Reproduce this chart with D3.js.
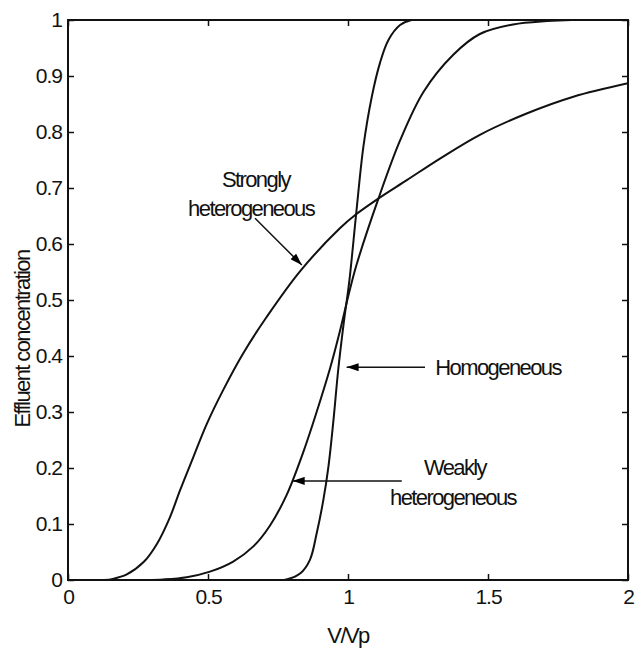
<html lang="en"><head>
<meta charset="utf-8">
<title>Effluent concentration curves</title>
<script src="https://cdn.jsdelivr.net/npm/d3@7"></script>
<style>
  body { margin: 0; background: #fff; }
  svg text { font-family: "Liberation Sans", Arial, sans-serif; fill: #111; }
</style>
</head>
<body>
<script>
// data (V/Vp, effluent concentration)
var homX = [0, 0.74, 0.78, 0.83, 0.864, 0.888, 0.912, 0.93, 0.948, 0.965, 0.985, 1.005, 1.029, 1.055, 1.085, 1.114, 1.144, 1.186, 1.227, 1.3, 2];
var homY = [0, 0, 0.001, 0.012, 0.036, 0.083, 0.143, 0.202, 0.285, 0.375, 0.46, 0.535, 0.653, 0.774, 0.863, 0.923, 0.964, 0.991, 1.0, 1.0, 1.0];

var weakX = [0, 0.28, 0.34, 0.424, 0.507, 0.59, 0.662, 0.721, 0.781, 0.84, 0.888, 0.936, 0.969, 1.005, 1.03, 1.108, 1.186, 1.27, 1.376, 1.471, 1.59, 1.71, 1.8, 2];
var weakY = [0, 0, 0.001, 0.005, 0.015, 0.033, 0.06, 0.097, 0.152, 0.228, 0.3, 0.378, 0.44, 0.515, 0.562, 0.68, 0.785, 0.872, 0.938, 0.975, 0.992, 0.998, 1, 1];

var strongX = [0, 0.13, 0.16, 0.21, 0.27, 0.317, 0.364, 0.4, 0.448, 0.495, 0.555, 0.626, 0.71, 0.83, 0.971, 1.029, 1.108, 1.21, 1.33, 1.471, 1.638, 1.805, 2.0];
var strongY = [0, 0, 0.002, 0.01, 0.032, 0.064, 0.112, 0.16, 0.22, 0.278, 0.34, 0.405, 0.47, 0.552, 0.628, 0.653, 0.681, 0.714, 0.753, 0.795, 0.833, 0.863, 0.887];

var xTicks = [0, 0.5, 1, 1.5, 2];
var yTicks = [0, 0.1, 0.2, 0.3, 0.4, 0.5, 0.6, 0.7, 0.8, 0.9, 1];

// annotation text and arrows, in data units
var labels = [
  { t: "Strongly", x: 0.671, y: 0.702 },
  { t: "heterogeneous", x: 0.654, y: 0.65 },
  { t: "Homogeneous", x: 1.536, y: 0.366 },
  { t: "Weakly", x: 1.382, y: 0.1875 },
  { t: "heterogeneous", x: 1.375, y: 0.134 }
];
var arrows = [
  { x1: 0.668, y1: 0.646, x2: 0.835, y2: 0.5625 },
  { x1: 1.275, y1: 0.38, x2: 0.995, y2: 0.38 },
  { x1: 1.192, y1: 0.177, x2: 0.8025, y2: 0.177 }
];

var w = 637, h = 654;
var m = { left: 68, top: 20, right: 9, bottom: 74 };

var svg = d3.select("body").append("svg")
  .attr("width", w)
  .attr("height", h);

var x = d3.scaleLinear().domain([0, 2]).range([m.left, w - m.right]);
var y = d3.scaleLinear().domain([0, 1]).range([h - m.bottom, m.top]);

var defs = svg.append("defs");
defs.append("marker")
  .attr("id", "head")
  .attr("viewBox", "0 0 12 8")
  .attr("refX", 12).attr("refY", 4)
  .attr("markerWidth", 12).attr("markerHeight", 8)
  .attr("markerUnits", "userSpaceOnUse")
  .attr("orient", "auto")
  .append("path")
  .attr("d", "M0,0L12,4L0,8Z")
  .attr("fill", "#000");

defs.append("clipPath").attr("id", "plot")
  .append("rect")
  .attr("x", x(0)).attr("y", y(1))
  .attr("width", x(2) - x(0)).attr("height", y(0) - y(1));

// axes, ticks pointing inwards on all four sides
function styleAxis(g) {
  g.select(".domain").remove();
  g.selectAll(".tick line").attr("stroke", "#111").attr("stroke-width", 1.5);
  g.selectAll(".tick text")
    .attr("font-size", "21px")
    .attr("letter-spacing", "-1px")
    .attr("fill", "#111");
}

svg.append("g")
  .attr("transform", "translate(0," + y(0) + ")")
  .call(d3.axisBottom(x).tickValues(xTicks).tickSize(-6).tickPadding(9).tickFormat(d3.format("")))
  .call(styleAxis)
  .selectAll(".tick text").attr("dy", "0.71em");

svg.append("g")
  .attr("transform", "translate(" + x(0) + ",0)")
  .call(d3.axisLeft(y).tickValues(yTicks).tickSize(-6).tickPadding(6).tickFormat(d3.format("")))
  .call(styleAxis);

svg.append("g")
  .attr("transform", "translate(0," + y(1) + ")")
  .call(d3.axisTop(x).tickValues(xTicks).tickSize(-6).tickFormat(""))
  .call(styleAxis);

svg.append("g")
  .attr("transform", "translate(" + x(2) + ",0)")
  .call(d3.axisRight(y).tickValues(yTicks).tickSize(-6).tickFormat(""))
  .call(styleAxis);

// curves
var line = d3.line()
  .x(function(d) { return x(d[0]); })
  .y(function(d) { return y(d[1]); })
  .curve(d3.curveCatmullRom.alpha(0.5));

[[homX, homY], [weakX, weakY], [strongX, strongY]].forEach(function(s) {
  svg.append("path")
    .datum(d3.zip(s[0], s[1]))
    .attr("d", line)
    .attr("clip-path", "url(#plot)")
    .attr("fill", "none")
    .attr("stroke", "#111")
    .attr("stroke-width", 2);
});

svg.append("rect")
  .attr("x", x(0)).attr("y", y(1))
  .attr("width", x(2) - x(0)).attr("height", y(0) - y(1))
  .attr("fill", "none")
  .attr("stroke", "#111")
  .attr("stroke-width", 2);

svg.selectAll("line.arrow")
  .data(arrows)
  .enter()
  .append("line")
  .attr("class", "arrow")
  .attr("x1", function(d) { return x(d.x1); })
  .attr("y1", function(d) { return y(d.y1); })
  .attr("x2", function(d) { return x(d.x2); })
  .attr("y2", function(d) { return y(d.y2); })
  .attr("stroke", "#111")
  .attr("stroke-width", 1.5)
  .attr("marker-end", "url(#head)");

svg.selectAll("text.note")
  .data(labels)
  .enter()
  .append("text")
  .attr("class", "note")
  .attr("x", function(d) { return x(d.x); })
  .attr("y", function(d) { return y(d.y); })
  .attr("text-anchor", "middle")
  .attr("font-size", "22px")
  .attr("letter-spacing", "-1.6px")
  .text(function(d) { return d.t; });

// axis titles
svg.append("text")
  .attr("x", x(1))
  .attr("y", 643)
  .attr("text-anchor", "middle")
  .attr("font-size", "22px")
  .attr("letter-spacing", "-1.6px")
  .text("V/Vp");

svg.append("text")
  .attr("transform", "translate(30,339) rotate(-90)")
  .attr("text-anchor", "middle")
  .attr("font-size", "22px")
  .attr("letter-spacing", "-1.6px")
  .text("Effluent concentration");
</script>
</body></html>
